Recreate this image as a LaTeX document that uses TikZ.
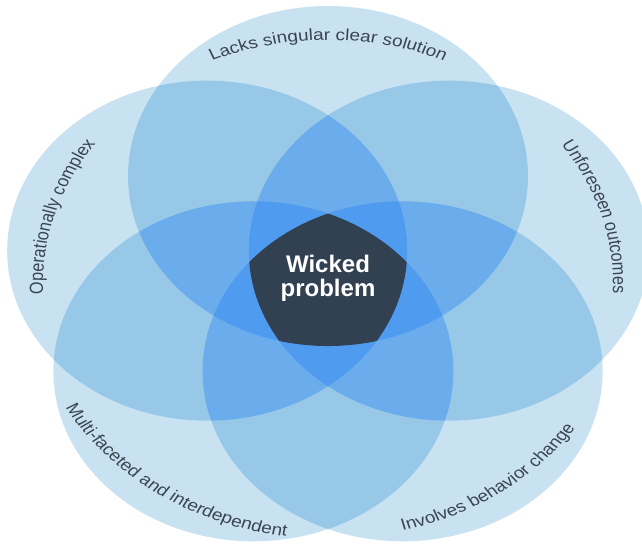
\documentclass[tikz,border=0pt]{standalone}
\usepackage{fontspec}
\setmainfont{Liberation Sans}
\usetikzlibrary{decorations.text}
\definecolor{lvone}{HTML}{C8E2F2}
\definecolor{lvtwo}{HTML}{98C8E8}
\definecolor{lvthree}{HTML}{6AACEC}
\definecolor{lvfour}{HTML}{4E9BF0}
\definecolor{lvfive}{HTML}{324152}
\definecolor{txt}{HTML}{3A4550}
% circles in the unsquished frame (the whole drawing is squeezed to 85% height)
\def\ringA{(328,432.9) circle [radius=200]}
\def\ringB{(448.8,345.1) circle [radius=200]}
\def\ringC{(402.6,203.2) circle [radius=200]}
\def\ringD{(253.4,203.2) circle [radius=200]}
\def\ringE{(207.2,345.1) circle [radius=200]}
\newcommand\pairfill[3]{\begin{scope}\clip #1;\fill[#3] #2;\end{scope}}
\newcommand\tripfill[4]{\begin{scope}\clip #1;\clip #2;\fill[#4] #3;\end{scope}}
\newcommand\quadfill[5]{\begin{scope}\clip #1;\clip #2;\clip #3;\fill[#5] #4;\end{scope}}
\newcommand\lblfont{\fontsize{19}{21}\selectfont}
\tikzset{
  lbl/.style={decorate, decoration={text along path, text align=center, text color=txt}}
}
\begin{document}
\begin{tikzpicture}[x=1pt,y=1pt]
\useasboundingbox (0,0) rectangle (642,544);
\fill[white] (0,0) rectangle (642,544);
\begin{scope}[transform canvas={yscale=0.85}]
\clip (0,0) rectangle (642,640);
\coordinate (mid) at (328,305.9);
% single
\fill[lvone] \ringA; \fill[lvone] \ringB; \fill[lvone] \ringC; \fill[lvone] \ringD; \fill[lvone] \ringE;
% pairs
\pairfill{\ringA}{\ringB}{lvtwo}
\pairfill{\ringA}{\ringC}{lvtwo}
\pairfill{\ringA}{\ringD}{lvtwo}
\pairfill{\ringA}{\ringE}{lvtwo}
\pairfill{\ringB}{\ringC}{lvtwo}
\pairfill{\ringB}{\ringD}{lvtwo}
\pairfill{\ringB}{\ringE}{lvtwo}
\pairfill{\ringC}{\ringD}{lvtwo}
\pairfill{\ringC}{\ringE}{lvtwo}
\pairfill{\ringD}{\ringE}{lvtwo}
% triples
\tripfill{\ringA}{\ringB}{\ringC}{lvthree}
\tripfill{\ringA}{\ringB}{\ringD}{lvthree}
\tripfill{\ringA}{\ringB}{\ringE}{lvthree}
\tripfill{\ringA}{\ringC}{\ringD}{lvthree}
\tripfill{\ringA}{\ringC}{\ringE}{lvthree}
\tripfill{\ringA}{\ringD}{\ringE}{lvthree}
\tripfill{\ringB}{\ringC}{\ringD}{lvthree}
\tripfill{\ringB}{\ringC}{\ringE}{lvthree}
\tripfill{\ringB}{\ringD}{\ringE}{lvthree}
\tripfill{\ringC}{\ringD}{\ringE}{lvthree}
% quadruples
\quadfill{\ringA}{\ringB}{\ringC}{\ringD}{lvfour}
\quadfill{\ringA}{\ringB}{\ringC}{\ringE}{lvfour}
\quadfill{\ringA}{\ringB}{\ringD}{\ringE}{lvfour}
\quadfill{\ringA}{\ringC}{\ringD}{\ringE}{lvfour}
\quadfill{\ringB}{\ringC}{\ringD}{\ringE}{lvfour}
% all five
\begin{scope}\clip \ringA;\clip \ringB;\clip \ringC;\clip \ringD;\fill[lvfive] \ringE;\end{scope}
% curved labels, concentric with the middle of the diagram
\path[lbl, decoration={text={|\lblfont|Lacks singular clear solution}}]
  (mid) ++(130:287) arc[start angle=130, end angle=50, radius=287];
\path[lbl, decoration={text={|\lblfont|Operationally complex}}]
  (mid) ++(203.5:285) arc[start angle=203.5, end angle=123.5, radius=285];
\path[lbl, decoration={text={|\lblfont|Unforeseen outcomes}}]
  (mid) ++(56.5:285) arc[start angle=56.5, end angle=-23.5, radius=285];
\path[lbl, decoration={text={|\lblfont|Multi-faceted and interdependent}}]
  (mid) ++(185.5:300) arc[start angle=185.5, end angle=285.5, radius=300];
\path[lbl, decoration={text={|\lblfont|Involves behavior change}}]
  (mid) ++(255:300) arc[start angle=255, end angle=355, radius=300];
\end{scope}
% center text
\node[font=\bfseries\fontsize{24}{24}\selectfont, text=white, align=center] (wp) at (328,266) {Wicked\\problem};
\end{tikzpicture}
\end{document}
